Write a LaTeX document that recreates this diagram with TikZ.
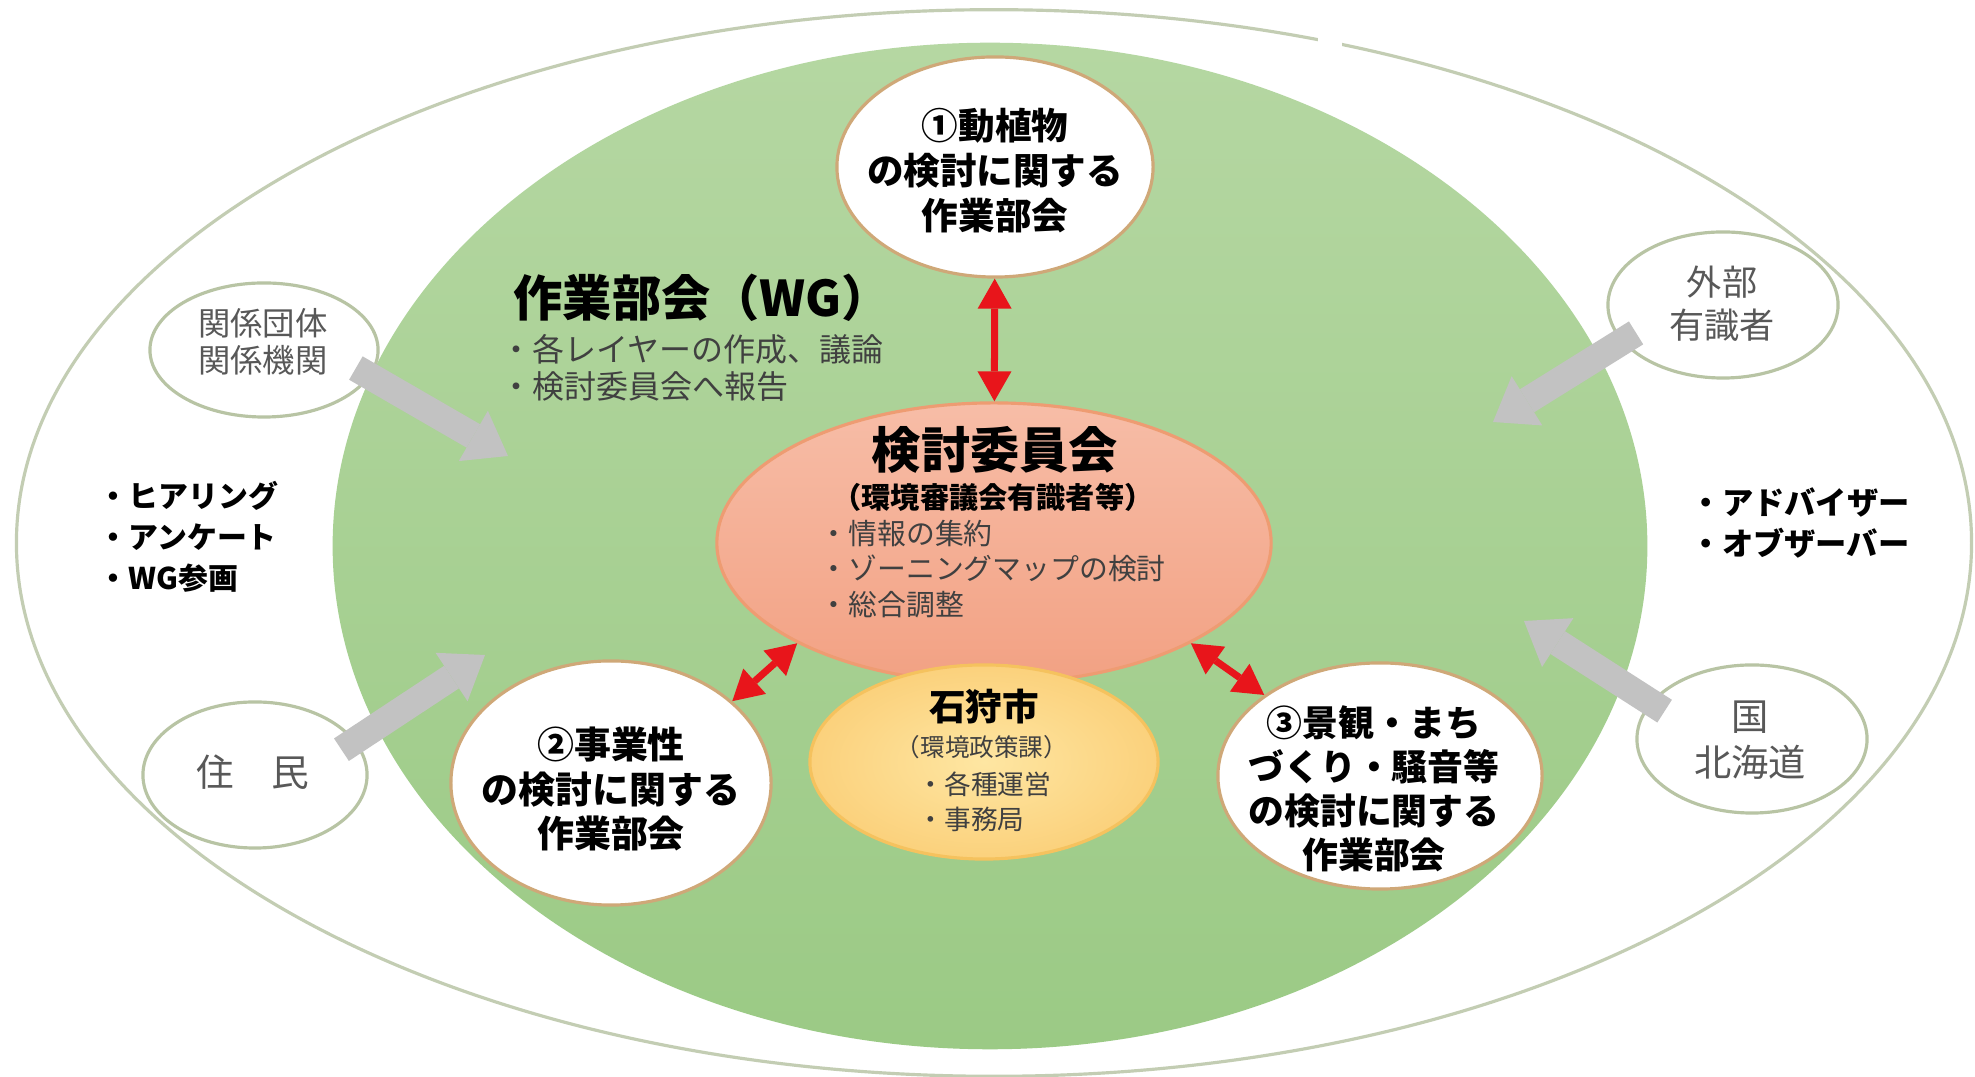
\documentclass[tikz,border=0pt]{standalone}
\usepackage{fontspec}
\setmainfont{Noto Sans CJK JP}
\usetikzlibrary{shapes.geometric,arrows.meta}
\definecolor{outerline}{HTML}{C3CDB3}
\definecolor{greentop}{HTML}{B5D7A2}
\definecolor{greenbot}{HTML}{9BCA85}
\definecolor{wborder}{HTML}{CFA878}
\definecolor{sborder}{HTML}{B8C4A4}
\definecolor{salmontop}{HTML}{F7BDA7}
\definecolor{salmonbot}{HTML}{F2A183}
\definecolor{salmonline}{HTML}{EE9C72}
\definecolor{yelin}{HTML}{FEE6A2}
\definecolor{yelout}{HTML}{FBD17C}
\definecolor{yelline}{HTML}{F5C25E}
\definecolor{redc}{HTML}{E8151B}
\definecolor{grayc}{HTML}{C2C2C2}
\definecolor{txtgray}{HTML}{585858}
\definecolor{txtdark}{HTML}{404040}
\newcommand\fsz[2]{\fontsize{#1pt}{#2pt}\selectfont}
\begin{document}
\begin{tikzpicture}[x=0.01cm,y=-0.01cm,
  ell/.style={ellipse,inner sep=0pt},
  wnode/.style={ell,draw=wborder,line width=0.9pt,fill=white},
  snode/.style={ell,draw=sborder,line width=0.9pt,fill=white},
  redarr/.style={draw=redc,line width=0.07cm,
    {Triangle[length=0.30cm,width=0.34cm,line width=0pt]}-{Triangle[length=0.30cm,width=0.34cm,line width=0pt]}},
  grayarr/.style={draw=grayc,line width=0.27cm,shorten <=-0.17cm,
    -{Triangle[length=0.40cm,width=0.58cm,line width=0pt]}},
  lbl/.style={inner sep=0pt,align=center,text=black},
  lbll/.style={inner sep=0pt,align=left,anchor=west,text=black},
]
\fill[white] (0,0) rectangle (1975,1077);
\useasboundingbox (0,0) rectangle (1975,1077);

% outer and green ellipses
\node[ell,draw=outerline,line width=0.9pt,minimum width=19.54cm,minimum height=10.66cm] (outer) at (994,543) {};
\fill[white] (1318,30) rectangle (1342,52);
\node[ell,top color=greentop,bottom color=greenbot,draw=none,minimum width=13.14cm,minimum height=10.06cm] (wg) at (990,546) {};

% small outside ellipses
\node[snode,minimum width=2.28cm,minimum height=1.34cm] (kankei) at (264,350) {};
\node[snode,minimum width=2.24cm,minimum height=1.46cm] (jumin) at (255,775) {};
\node[snode,minimum width=2.30cm,minimum height=1.46cm] (gaibu) at (1723,305) {};
\node[snode,minimum width=2.30cm,minimum height=1.48cm] (kuni) at (1752,739) {};

\node[lbl,text=txtgray,font=\fsz{9.2}{10.5}] (kankeit) at (263,342) {関係団体\\関係機関};
\node[lbl,text=txtgray,font=\fsz{10.7}{13}] (juminit) at (253,772) {住　民};
\node[lbl,text=txtgray,font=\fsz{10}{12.2}] (gaibut) at (1722,304) {外部\\有識者};
\node[lbl,text=txtgray,font=\fsz{10.6}{13}] (kunit) at (1750,740) {国\\北海道};

% gray arrows
\coordinate (t1) at (508,456);
\coordinate (t2) at (485,655);
\coordinate (t3) at (1493,422);
\coordinate (t4) at (1524,621);
\draw[grayarr] (kankei.-14) -- (t1);
\draw[grayarr] (jumin.19) -- (t2);
\draw[grayarr] (gaibu.200) -- (t3);
\draw[grayarr] (kuni.160) -- (t4);

% main nodes
\node[wnode,minimum width=3.16cm,minimum height=2.20cm] (n1) at (995,167) {};
\node[ell,draw=salmonline,line width=0.9pt,top color=salmontop,bottom color=salmonbot,minimum width=5.54cm,minimum height=2.80cm] (kentou) at (994,543) {};
\node[ell,draw=yelline,line width=0.9pt,inner color=yelin,outer color=yelout,minimum width=3.48cm,minimum height=1.94cm] (ishikari) at (984,762) {};
\node[wnode,minimum width=3.20cm,minimum height=2.44cm] (n2) at (611,783) {};
\node[wnode,minimum width=3.24cm,minimum height=2.26cm] (n3) at (1380,776) {};

% red arrows
\draw[redarr] (n1) -- (kentou);
\draw[redarr] (n2.34) -- (kentou.207);
\draw[redarr] (kentou.-27) -- (n3.145);

% texts
\node[lbl,font=\fsz{10.4}{12.8}\bfseries] (n1t) at (995,171) {①動植物\\の検討に関する\\作業部会};
\node[lbl,font=\fsz{10.5}{12.6}\bfseries] (n2t) at (611,789) {②事業性\\の検討に関する\\作業部会};
\node[lbl,font=\fsz{10.2}{12.5}\bfseries] (n3t) at (1374,789) {③景観・まち\\づくり・騒音等\\の検討に関する\\作業部会};

\node[lbl,font=\fsz{14}{16}\bfseries] (kt1) at (995,450) {検討委員会};
\node[lbl,font=\fsz{8.3}{10}\bfseries] (kt2) at (993,497) {（環境審議会有識者等）};
\node[lbll,text=txtdark,font=\fsz{8.2}{10.2}] (kt3) at (819,569) {・情報の集約\\・ゾーニングマップの検討\\・総合調整};

\node[lbl,font=\fsz{10.4}{12}\bfseries] (it1) at (984,707) {石狩市};
\node[lbl,text=txtdark,font=\fsz{7}{9}] (it2) at (982,747) {（環境政策課）};
\node[lbll,text=txtdark,font=\fsz{7.6}{10}] (it3) at (917,802) {・各種運営\\・事務局};

\node[lbll,font=\fsz{14}{16}\bfseries] (wgt) at (513,298) {作業部会（WG）};
\node[lbll,text=txtdark,font=\fsz{9.1}{10.5}] (wgl) at (500,368) {・各レイヤーの作成、議論\\・検討委員会へ報告};

\node[lbll,font=\fsz{8.5}{11.7}\bfseries] (leftl) at (98,537) {・ヒアリング\\・アンケート\\・WG参画};
\node[lbll,font=\fsz{8.9}{11.4}\bfseries] (rightl) at (1690,523) {・アドバイザー\\・オブザーバー};
\end{tikzpicture}
\end{document}
